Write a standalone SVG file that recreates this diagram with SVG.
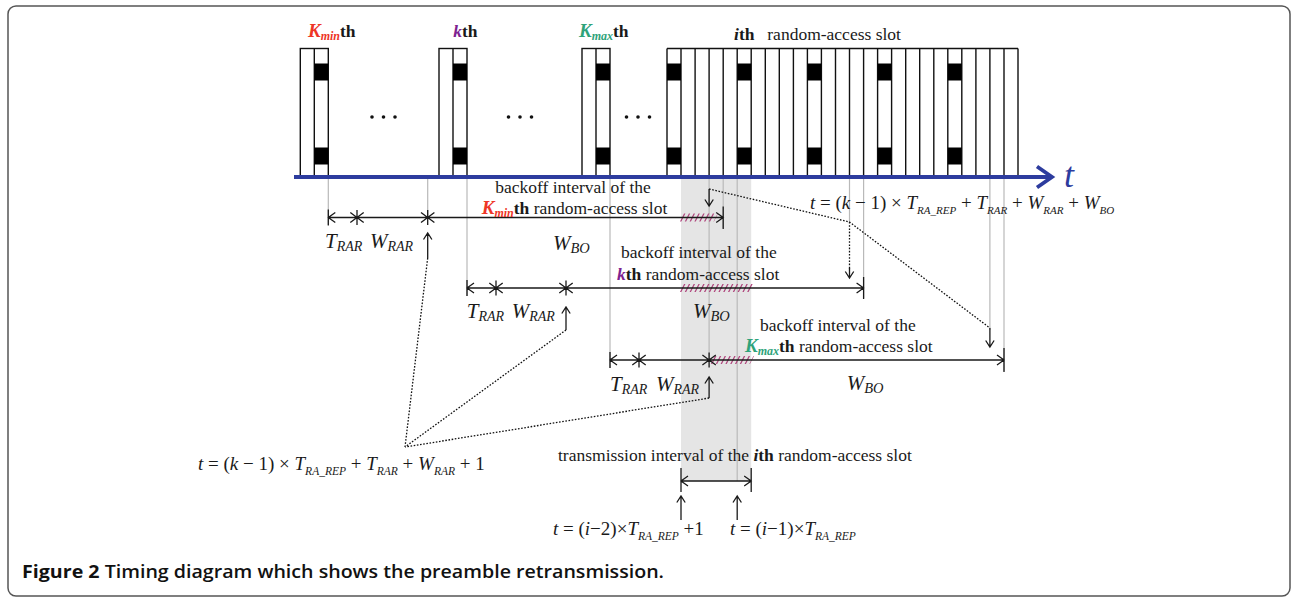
<svg xmlns="http://www.w3.org/2000/svg" width="1292" height="599" viewBox="0 0 1292 599">
<defs>
<style>
.frame{fill:#fff;stroke:#555;stroke-width:1.5}
.slot{fill:none;stroke:#111;stroke-width:1.4}
.blk{fill:#000}
.gl{stroke:#b9b9b9;stroke-width:1.2;fill:none}
.dim{stroke:#1a1a1a;stroke-width:1.3;fill:none}
.dot{stroke:#111;stroke-width:1.3;stroke-dasharray:1.6 1.6;fill:none}
.hatch{stroke:#b0487e;stroke-width:8;stroke-dasharray:1.4 3.4;fill:none}
.txt{font-family:"Liberation Serif",serif;font-size:17.5px;fill:#1a1a1a}
.m{font-family:"Liberation Serif",serif;font-size:21px;font-style:italic;fill:#1a1a1a}
.f{font-family:"Liberation Serif",serif;font-size:19px;fill:#1a1a1a}
.i{font-style:italic}
.b{font-weight:bold}
.bi{font-weight:bold;font-style:italic}
.red{fill:#ee3526}
.pur{fill:#7d2290}
.grn{fill:#2fa37a}
.cap{font-family:"Open Sans","Noto Sans",sans-serif;font-size:18px;fill:#111}
</style>
</defs>
<rect class="frame" x="8" y="6" width="1282" height="590" rx="8"/>

<!-- grey band -->
<rect x="681" y="178.5" width="70.2" height="302.5" fill="#e5e5e5"/>

<!-- grey guide lines -->
<g id="guides" class="gl">
<path d="M328.3,179V225 M427.7,179V218 M467,179V296 M610,179V368 M709.1,179V360 M723.2,179V228 M737.2,179V481 M849.5,179V222 M863.6,179V298 M989.9,179V330 M1004,179V371"/>
</g>

<!-- slots -->
<g id="slot-kmin">
<rect class="slot" x="300.3" y="48.5" width="28" height="128.5"/>
<path class="slot" d="M314.3,48.5V177"/>
<rect class="blk" x="314.3" y="63.5" width="14" height="17"/>
<rect class="blk" x="314.3" y="147.5" width="14" height="17"/>
<text class="txt" x="308" y="37"><tspan class="bi red" font-size="19">K</tspan><tspan class="bi red" font-size="12" dy="3">min</tspan><tspan class="b" dy="-3">th</tspan></text>
</g>
<g id="slot-k">
<rect class="slot" x="439" y="48.5" width="28" height="128.5"/>
<path class="slot" d="M453,48.5V177"/>
<rect class="blk" x="453" y="63.5" width="14" height="17"/>
<rect class="blk" x="453" y="147.5" width="14" height="17"/>
<text class="txt" x="453.3" y="37"><tspan class="bi pur">k</tspan><tspan class="b">th</tspan></text>
</g>
<g id="slot-kmax">
<rect class="slot" x="582" y="48.5" width="28" height="128.5"/>
<path class="slot" d="M596,48.5V177"/>
<rect class="blk" x="596" y="63.5" width="14" height="17"/>
<rect class="blk" x="596" y="147.5" width="14" height="17"/>
<text class="txt" x="579" y="37"><tspan class="bi grn" font-size="19">K</tspan><tspan class="bi grn" font-size="12" dy="3">max</tspan><tspan class="b" dy="-3">th</tspan></text>
</g>
<g id="dots" fill="#111">
<circle cx="372" cy="117" r="1.8"/><circle cx="383.5" cy="117" r="1.8"/><circle cx="395" cy="117" r="1.8"/>
<circle cx="508.5" cy="117" r="1.8"/><circle cx="520" cy="117" r="1.8"/><circle cx="531.5" cy="117" r="1.8"/>
<circle cx="626.5" cy="117" r="1.8"/><circle cx="638" cy="117" r="1.8"/><circle cx="649.5" cy="117" r="1.8"/>
</g>
<g id="slots-i">
<path class="slot" d="M667,48.5H1018 M667,48.5V177 M681,48.5V177 M695.1,48.5V177 M709.1,48.5V177 M723.2,48.5V177 M737.2,48.5V177 M751.2,48.5V177 M765.3,48.5V177 M779.3,48.5V177 M793.4,48.5V177 M807.4,48.5V177 M821.4,48.5V177 M835.5,48.5V177 M849.5,48.5V177 M863.6,48.5V177 M877.6,48.5V177 M891.6,48.5V177 M905.7,48.5V177 M919.7,48.5V177 M933.8,48.5V177 M947.8,48.5V177 M961.8,48.5V177 M975.9,48.5V177 M989.9,48.5V177 M1004,48.5V177 M1018,48.5V177"/>
<g class="blk">
<rect x="667" y="63.5" width="14" height="17"/><rect x="667" y="147.5" width="14" height="17"/>
<rect x="737.2" y="63.5" width="14" height="17"/><rect x="737.2" y="147.5" width="14" height="17"/>
<rect x="807.4" y="63.5" width="14" height="17"/><rect x="807.4" y="147.5" width="14" height="17"/>
<rect x="877.6" y="63.5" width="14" height="17"/><rect x="877.6" y="147.5" width="14" height="17"/>
<rect x="947.8" y="63.5" width="14" height="17"/><rect x="947.8" y="147.5" width="14" height="17"/>
</g>
<text class="txt" x="734" y="40"><tspan class="bi">i</tspan><tspan class="b">th</tspan></text>
<text class="txt" x="767.3" y="40">random-access slot</text>
</g>

<!-- time axis -->
<g id="axis">
<path d="M294,177H1050" stroke="#2d3c9e" stroke-width="3.8" fill="none"/>
<path d="M1037,166.5L1052,177L1037,187.5" stroke="#2d3c9e" stroke-width="3.8" fill="none"/>
<text x="1064" y="187" font-family="Liberation Serif,serif" font-size="36" font-style="italic" fill="#2d3c9e">t</text>
</g>

<!-- hatches -->
<g id="hatches" class="hatch">
<g transform="translate(682,217.5) skewX(-27)"><path d="M0,0H34"/></g>
<g transform="translate(682,288) skewX(-27)"><path d="M0,0H70"/></g>
<g transform="translate(713,360) skewX(-27)"><path d="M0,0H39"/></g>
</g>

<!-- connectors -->
<g id="connectors">
<path class="dim" d="M328.3,217.5H723.2 M328.3,209.5V225.5 M335.3,212.5L328.3,217.5L335.3,222.5 M357,210V225 M350.3,212.5L363.7,222.5 M350.3,222.5L363.7,212.5 M427.7,210V225 M421,212.5L434.4,222.5 M421,222.5L434.4,212.5 M723.2,206.5V229 M716.2,212.5L723.2,217.5L716.2,222.5"/>
<path class="dim" d="M467,288H863.6 M467,280V296 M474,283L467,288L474,293 M496,280.5V295.5 M489.3,283L502.7,293 M489.3,293L502.7,283 M566,280.5V295.5 M559.3,283L572.7,293 M559.3,293L572.7,283 M863.6,277V299 M856.6,283L863.6,288L856.6,293"/>
<path class="dim" d="M610,360H1004 M610,352V368 M617,355L610,360L617,365 M639,352.5V367.5 M632.3,355L645.7,365 M632.3,365L645.7,355 M709.1,352.5V367.5 M702.4,355L715.8,365 M702.4,365L715.8,355 M1004,348V372 M997,355L1004,360L997,365"/>
<path class="dim" d="M681,481H751.2 M681,468V492 M688,476L681,481L688,486 M751.2,468V492 M744.2,476L751.2,481L744.2,486"/>
<path class="dim" d="M427.7,258V233 M423.5,239.5L427.7,233L431.9,239.5 M566,330V307 M561.8,313.5L566,307L570.2,313.5 M709.1,398V377 M704.9,383.5L709.1,377L713.3,383.5 M681,520V496 M676.8,502.5L681,496L685.2,502.5 M737.2,520V496 M733,502.5L737.2,496L741.4,502.5"/>
<path class="dim" d="M709.1,189V206 M704.9,199.5L709.1,206L713.3,199.5 M849.5,268V278 M845.3,271.5L849.5,278L853.7,271.5 M989.9,328V347 M985.7,340.5L989.9,347L994.1,340.5"/>
<path class="dot" d="M709.1,189L849.5,222L989.9,328 M849.5,222V270"/>
<path class="dot" d="M427.7,258L405,447 M566,330L405,447 M709.1,398L405,447"/>
</g>

<!-- labels -->
<g id="labels-l1">
<text class="txt" x="573" y="193" text-anchor="middle">backoff interval of the</text>
<text class="txt" x="481.7" y="214"><tspan class="bi red" font-size="19">K</tspan><tspan class="bi red" font-size="12" dy="3">min</tspan><tspan class="b" dy="-3">th</tspan> random-access slot</text>
<text class="m" x="325" y="248">T<tspan font-size="14" dy="3">RAR</tspan></text>
<text class="m" x="370" y="248">W<tspan font-size="14" dy="3">RAR</tspan></text>
<text class="m" x="553" y="250">W<tspan font-size="14.5" dy="3">BO</tspan></text>
</g>
<g id="labels-l2">
<text class="txt" x="621" y="258">backoff interval of the</text>
<text class="txt" x="617" y="280"><tspan class="bi pur">k</tspan><tspan class="b">th</tspan> random-access slot</text>
<text class="m" x="466.7" y="318">T<tspan font-size="14" dy="3">RAR</tspan></text>
<text class="m" x="511.7" y="318">W<tspan font-size="14" dy="3">RAR</tspan></text>
<text class="m" x="693" y="318">W<tspan font-size="14.5" dy="3">BO</tspan></text>
</g>
<g id="labels-l3">
<text class="txt" x="760" y="331">backoff interval of the</text>
<text class="txt" x="745" y="352"><tspan class="bi grn" font-size="19">K</tspan><tspan class="bi grn" font-size="12" dy="3">max</tspan><tspan class="b" dy="-3">th</tspan> random-access slot</text>
<text class="m" x="610" y="391">T<tspan font-size="14" dy="3">RAR</tspan></text>
<text class="m" x="656" y="391">W<tspan font-size="14" dy="3">RAR</tspan></text>
<text class="m" x="846.7" y="390">W<tspan font-size="14.5" dy="3">BO</tspan></text>
</g>
<g id="labels-tx">
<text class="txt" x="558" y="461">transmission interval of the <tspan class="bi">i</tspan><tspan class="b">th</tspan> random-access slot</text>
</g>
<g id="formulas">
<text class="f" x="810" y="209" font-size="18.5"><tspan class="i">t</tspan> = (<tspan class="i">k</tspan> − 1) × <tspan class="i">T</tspan><tspan class="i" font-size="11" dy="5">RA_REP</tspan><tspan dy="-5"> + </tspan><tspan class="i">T</tspan><tspan class="i" font-size="11" dy="5">RAR</tspan><tspan dy="-5"> + </tspan><tspan class="i">W</tspan><tspan class="i" font-size="11" dy="5">RAR</tspan><tspan dy="-5"> + </tspan><tspan class="i">W</tspan><tspan class="i" font-size="11" dy="5">BO</tspan></text>
<text class="f" x="198" y="470"><tspan class="i">t</tspan> = (<tspan class="i">k</tspan> − 1) × <tspan class="i">T</tspan><tspan class="i" font-size="11.5" dy="5">RA_REP</tspan><tspan dy="-5"> + </tspan><tspan class="i">T</tspan><tspan class="i" font-size="11.5" dy="5">RAR</tspan><tspan dy="-5"> + </tspan><tspan class="i">W</tspan><tspan class="i" font-size="11.5" dy="5">RAR</tspan><tspan dy="-5"> + 1</tspan></text>
<text class="f" x="553" y="535"><tspan class="i">t</tspan> = (<tspan class="i">i</tspan>−2)×<tspan class="i">T</tspan><tspan class="i" font-size="11.5" dy="5">RA_REP</tspan><tspan dy="-5"> +1</tspan></text>
<text class="f" x="730" y="535"><tspan class="i">t</tspan> = (<tspan class="i">i</tspan>−1)×<tspan class="i">T</tspan><tspan class="i" font-size="11.5" dy="5">RA_REP</tspan></text>
</g>
<g id="caption">
<text class="cap" x="22" y="578" textLength="642" lengthAdjust="spacingAndGlyphs"><tspan font-weight="bold">Figure 2</tspan><tspan font-weight="600"> Timing diagram which shows the preamble retransmission.</tspan></text>
</g>
</svg>
